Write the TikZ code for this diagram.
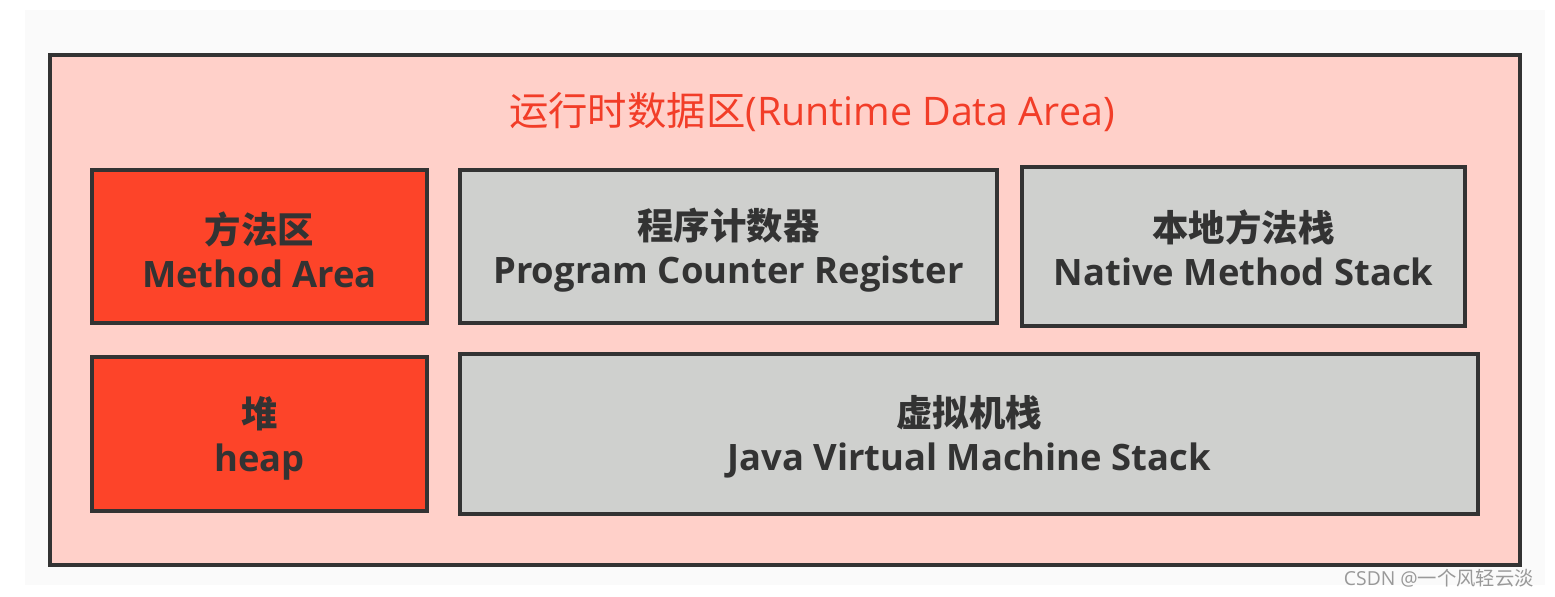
\documentclass[tikz,border=0pt]{standalone}
\usepackage{fontspec}
\setmainfont{Open Sans}
\newfontfamily\cjk{Noto Sans CJK SC}
\definecolor{areapink}{HTML}{FFD0C9}
\definecolor{memred}{HTML}{FD4429}
\definecolor{memgray}{HTML}{CFD0CE}
\definecolor{titlered}{HTML}{F23D28}
\definecolor{edgegray}{HTML}{333333}
\tikzset{
  redbox/.style={line width=2.3pt, draw=edgegray, fill=memred},
  graybox/.style={line width=2.3pt, draw=edgegray, fill=memgray},
  boxtext/.style={align=center, text=edgegray, font=\bfseries\fontsize{20.7}{25}\selectfont}
}
\begin{document}
\begin{tikzpicture}[x=0.02cm, y=-0.02cm]
	%%%%% START %%%%%
	\useasboundingbox (0, 0) rectangle (1555, 597);
	\fill[color=white] (0, 0) rectangle (1555, 597);
	\fill[color=black!2] (25, 10) rectangle (1545, 585);
	
	\draw[line width=1.8pt, draw=edgegray, fill=areapink] (50, 55) rectangle (1520, 565);
	\node[text=titlered, font=\fontsize{22.4}{26}\selectfont] (title) at (812, 112) {{\cjk 运行时数据区}(Runtime Data Area)};
	
	\draw[redbox] (92, 170) rectangle (427, 323);
	\node[boxtext] (method) at (259.5, 250) {{\cjk 方法区}\\Method Area};
	
	\draw[graybox] (460, 170) rectangle (997, 323);
	\node[boxtext] (pcreg) at (728.5, 250) {{\cjk 程序计数器}\\Program Counter Register};
	
	\draw[graybox] (1022, 167) rectangle (1465, 326);
	\node[boxtext] (native) at (1243.5, 248) {{\cjk 本地方法栈}\\Native Method Stack};
	
	\draw[redbox] (92, 357) rectangle (427, 511);
	\node[boxtext] (heap) at (259.5, 438) {{\cjk 堆}\\heap};
	
	\draw[graybox] (460, 354) rectangle (1478, 514);
	\node[boxtext] (jvmstack) at (969, 437) {{\cjk 虚拟机栈}\\Java Virtual Machine Stack};
	
	\node[text=black!40, font=\fontsize{11}{12}\selectfont, anchor=east] (mark) at (1540, 578) {CSDN @{\cjk 一个风轻云淡}};
	%%%%% END %%%%%
\end{tikzpicture}
\end{document}
